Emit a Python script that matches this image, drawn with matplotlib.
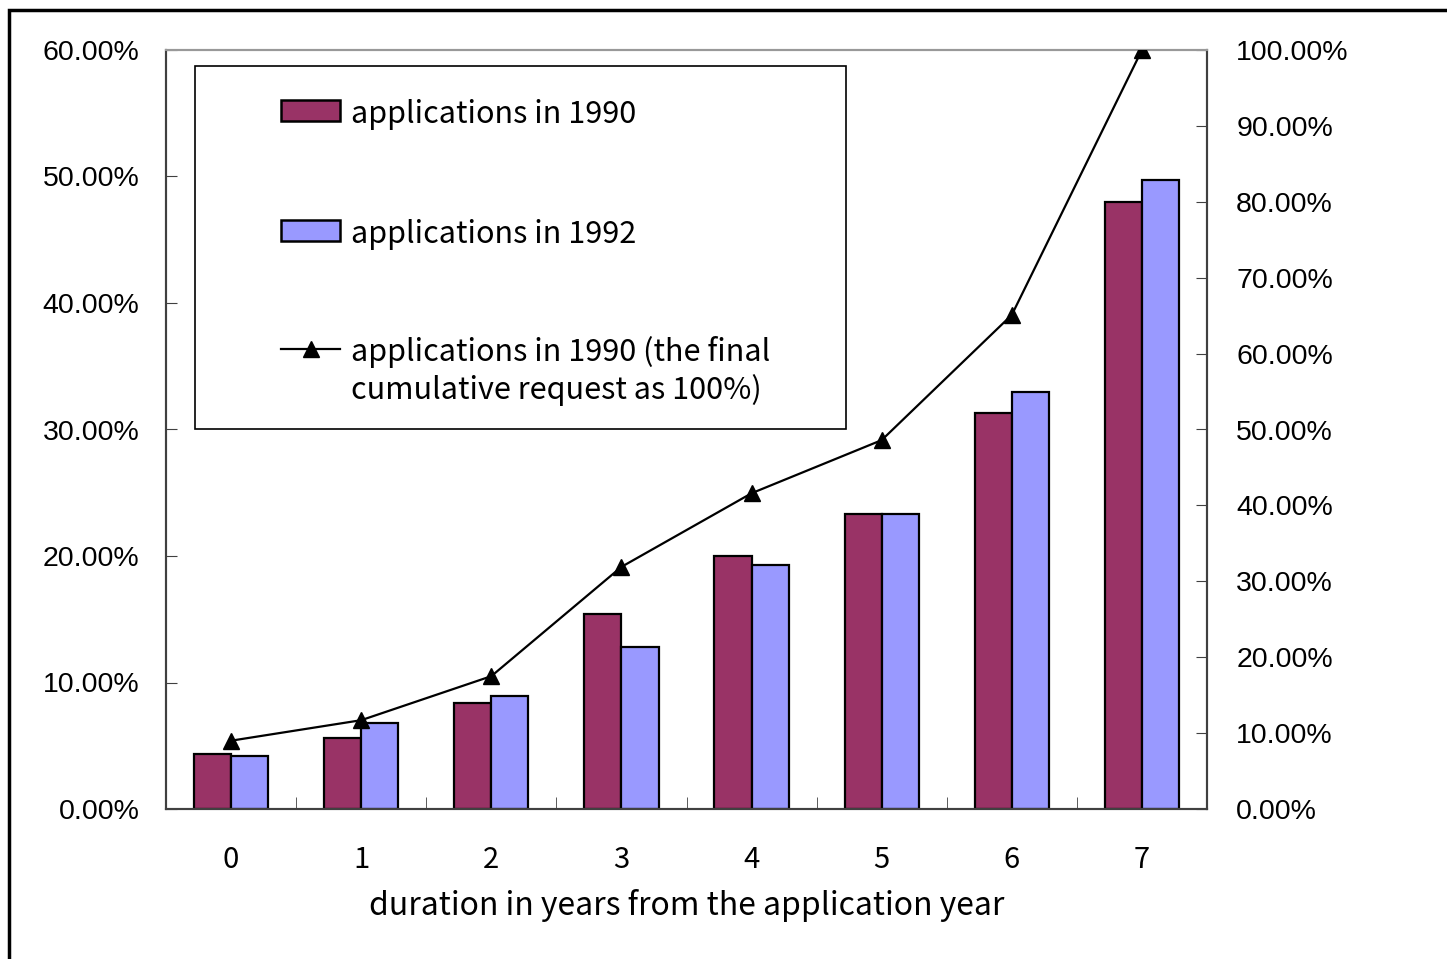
import matplotlib.pyplot as plt
import numpy as np
from matplotlib.patches import Rectangle
from matplotlib.lines import Line2D
from matplotlib.ticker import FuncFormatter

plt.rcParams['font.family'] = ['Noto Sans CJK JP', 'DejaVu Sans']

years = [0, 1, 2, 3, 4, 5, 6, 7]
share_1990 = [4.35, 5.6, 8.4, 15.4, 20.0, 23.3, 31.3, 48.0]
share_1992 = [4.2, 6.8, 8.9, 12.8, 19.3, 23.3, 33.0, 49.7]
cumulative_1990 = [9.0, 11.7, 17.5, 31.9, 41.6, 48.6, 65.1, 100.0]

c90 = '#993366'
c92 = '#9999FF'
W, H = 1447, 959

fig = plt.figure(figsize=(14.47, 9.59), dpi=100)
ax = fig.add_axes([166/W, 150/H, 1041/W, 759/H])
ax2 = ax.twinx()

x = np.arange(len(years))
w = 0.285
ax.bar(x - w/2, share_1990, w, color=c90, edgecolor='black', linewidth=1.6, zorder=2)
ax.bar(x + w/2, share_1992, w, color=c92, edgecolor='black', linewidth=1.6, zorder=2)
ax2.plot(x, cumulative_1990, color='black', lw=1.6, marker='^', ms=11, zorder=3)

ax.set_xlim(-0.5, 7.5)
ax.set_ylim(0, 60)
ax2.set_ylim(0, 100)
ax.set_yticks(np.arange(0, 61, 10))
ax2.set_yticks(np.arange(0, 101, 10))
pct = FuncFormatter(lambda v, p: '%.2f%%' % v)
ax.yaxis.set_major_formatter(pct)
ax2.yaxis.set_major_formatter(pct)

ax.set_xticks(x)
ax.set_xticklabels([str(y) for y in years], fontsize=21)
ax.set_xticks(np.arange(0.5, 7, 1), minor=True)
ax.tick_params(axis='x', which='major', length=0, pad=26)
ax.tick_params(axis='x', which='minor', direction='in', length=9, color='#404040')
ax.tick_params(axis='y', direction='in', length=8, pad=19, color='#404040')
ax2.tick_params(axis='y', direction='in', length=8, pad=21, color='#404040')
for lab in ax.get_yticklabels() + ax2.get_yticklabels():
    lab.set_family('Liberation Sans')
    lab.set_fontsize(20.5)

for a in (ax, ax2):
    for s in ('left', 'right', 'bottom'):
        a.spines[s].set_color('#404040')
        a.spines[s].set_linewidth(1.5)
    a.spines['top'].set_color('#999999')
    a.spines['top'].set_linewidth(1.5)

ax.set_xlabel('duration in years from the application year', fontsize=23, labelpad=10)

# legend box with hand-placed keys
fig.patches.append(Rectangle((195/W, 1 - 429/H), 651/W, 363/H, transform=fig.transFigure,
                             facecolor='white', edgecolor='black', lw=1.2, zorder=5))
for yc, col in ((111, c90), (231, c92)):
    fig.patches.append(Rectangle((281/W, 1 - (yc + 10)/H), 59/W, 21/H, transform=fig.transFigure,
                                 facecolor=col, edgecolor='black', lw=1.8, zorder=6))
fig.lines.append(Line2D([281/W, 340/W], [1 - 349/H, 1 - 349/H], transform=fig.transFigure,
                        color='black', lw=1.6, zorder=6))
fig.lines.append(Line2D([310.5/W], [1 - 349/H], transform=fig.transFigure, color='black',
                        marker='^', ms=11, zorder=6))
leg_text = [(111, 'applications in 1990'), (231, 'applications in 1992'),
            (349, 'applications in 1990 (the final'), (387, 'cumulative request as 100%)')]
for yc, s in leg_text:
    fig.text(351/W, 1 - (yc + 3)/H, s, fontsize=22, va='center', ha='left', zorder=7)

# outer chart frame
fig.patches.append(Rectangle((9/W, -0.05), 1.1, 1.05 - 10/H, transform=fig.transFigure,
                             fill=False, edgecolor='black', lw=2.5))

fig.savefig('out.png', dpi=100)
